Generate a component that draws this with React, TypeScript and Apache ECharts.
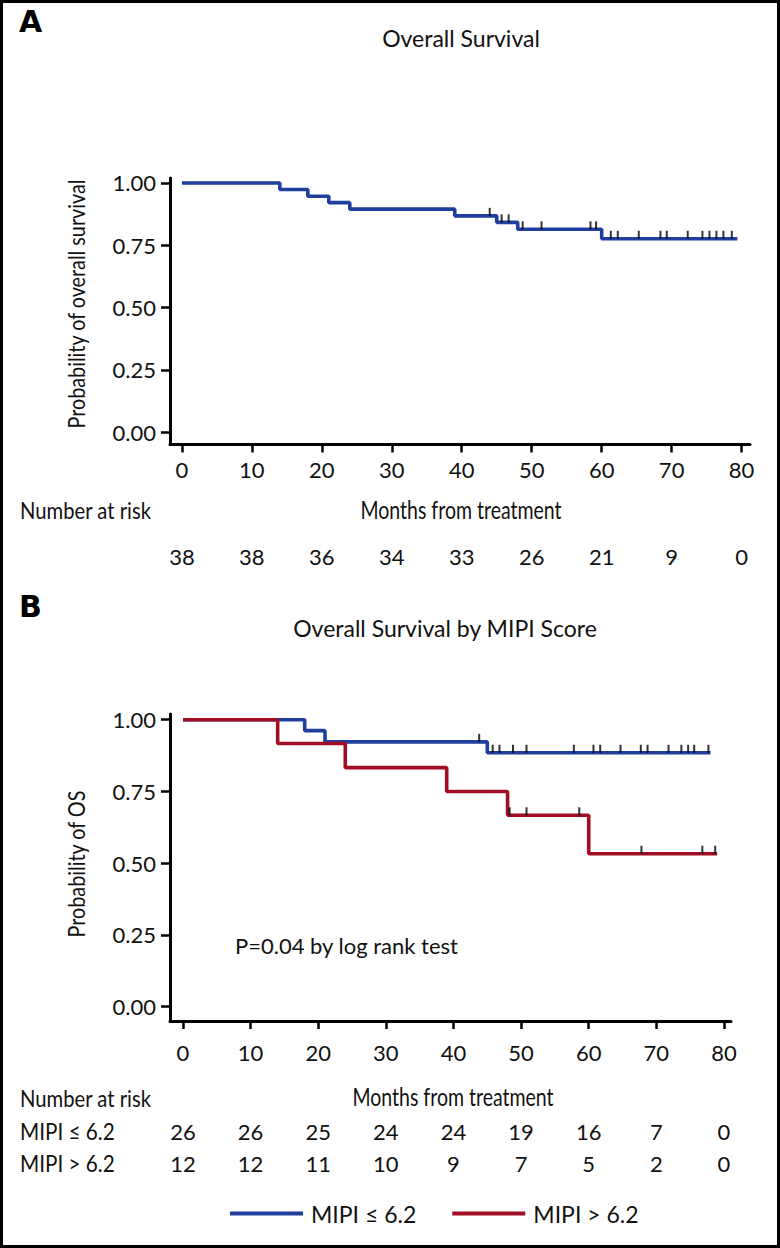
import React, { useEffect, useRef } from "react";
import * as echarts from "echarts";

// ---------- data ----------
const months = [0, 10, 20, 30, 40, 50, 60, 70, 80];
const yTicks = [0, 0.25, 0.5, 0.75, 1];

// Panel A: overall survival (all patients)
const osTimes = [0, 14, 18, 21, 24, 39, 45, 48, 60, 79.4];
const osSurv = [1, 0.974, 0.947, 0.921, 0.895, 0.868, 0.842, 0.814, 0.776, 0.776];
const osCensor = [44.0, 45.7, 46.7, 48.7, 51.4, 58.4, 59.2, 61.3, 62.3, 65.3, 68.4, 69.3, 72.3, 74.4, 75.4, 76.4, 77.4, 78.6];
const riskAll = [38, 38, 36, 34, 33, 26, 21, 9, 0];

// Panel B: by MIPI score
const lowName = "MIPI ≤ 6.2";
const highName = "MIPI > 6.2";
const lowTimes = [0, 18, 21, 45, 78];
const lowSurv = [1, 0.962, 0.923, 0.885, 0.885];
const lowCensor = [43.8, 45.8, 46.8, 48.8, 50.8, 57.8, 60.7, 61.7, 64.7, 67.7, 68.7, 71.8, 73.7, 74.7, 75.6, 77.7];
const highTimes = [0, 14, 24, 39, 48, 60, 79];
const highSurv = [1, 0.917, 0.833, 0.75, 0.667, 0.533, 0.533];
const highCensor = [48.3, 50.8, 58.6, 67.8, 76.8, 78.7];
const riskLow = [26, 26, 25, 24, 24, 19, 16, 7, 0];
const riskHigh = [12, 12, 11, 10, 9, 7, 5, 2, 0];

// ---------- helpers ----------
const BLUE = "#1f3f9f";
const RED = "#a00d25";
const REG = "Lato, 'Open Sans', sans-serif";

const curve = (t: number[], s: number[]) => t.map((x, i) => [x, s[i]]);
const levelAt = (t: number[], s: number[], x: number) => {
  let v = s[0];
  for (let i = 0; i < t.length; i++) if (t[i] <= x) v = s[i];
  return v;
};
const marks = (t: number[], s: number[], c: number[]) => c.map((x) => [x, levelAt(t, s, x)]);

const xAxisBase = (grid: number, min: number, max: number, margin: number) => ({
  type: "value",
  gridIndex: grid,
  min,
  max,
  axisLine: { show: true, onZero: false, lineStyle: { color: "#000", width: 3 } },
  axisTick: { show: true, customValues: months, length: 8, lineStyle: { color: "#000", width: 2.5 } },
  axisLabel: { customValues: months, margin, fontFamily: REG, fontSize: 22, color: "#111" },
  splitLine: { show: false },
});

const yAxisBase = (grid: number) => ({
  type: "value",
  gridIndex: grid,
  min: -0.05,
  max: 1.02,
  axisLine: { show: true, onZero: false, lineStyle: { color: "#000", width: 3 } },
  axisTick: { show: true, customValues: yTicks, length: 9, lineStyle: { color: "#000", width: 2.5 } },
  axisLabel: {
    customValues: yTicks,
    margin: 14,
    fontFamily: REG,
    fontSize: 22,
    color: "#111",
    formatter: (v: number) => v.toFixed(2),
  },
  splitLine: { show: false },
});

const hiddenX = (grid: number, min: number, max: number) => ({
  type: "value",
  gridIndex: grid,
  min,
  max,
  show: false,
});

const stepLine = (name: string, data: number[][], color: string, xi: number) => ({
  name,
  type: "line",
  xAxisIndex: xi,
  yAxisIndex: xi,
  data,
  step: "end",
  symbol: "none",
  lineStyle: { color, width: 3.6 },
  itemStyle: { color },
  z: 3,
});

const censorSeries = (data: number[][], xi: number) => ({
  name: "censor",
  type: "scatter",
  xAxisIndex: xi,
  yAxisIndex: xi,
  data,
  symbol: "rect",
  symbolSize: [2, 8],
  symbolOffset: [0, -4],
  itemStyle: { color: "#000" },
  z: 4,
  silent: true,
});

const riskSeries = (vals: number[], row: number, xi: number) => ({
  type: "scatter",
  xAxisIndex: xi,
  yAxisIndex: xi,
  data: months.map((m, i) => [m, row, vals[i]]),
  symbol: "circle",
  symbolSize: 1,
  itemStyle: { color: "#ffffff", opacity: 1 },
  label: {
    show: true,
    position: "inside",
    formatter: (p: any) => String(p.data[2]),
    fontFamily: REG,
    fontSize: 22,
    color: "#111111",
    opacity: 1,
    textBorderWidth: 0,
  },
  emphasis: { disabled: true },
  silent: true,
});

const txt = (text: string, x: number, y: number, extra: any = {}, el: any = {}) => ({
  type: "text",
  x,
  y,
  ...el,
  style: { text, fontFamily: REG, fontSize: 22, fill: "#111", verticalAlign: "middle", ...extra },
  silent: true,
});

export default function App() {
  const ref = useRef<HTMLDivElement>(null);
  useEffect(() => {
    document.body.style.margin = "0";
    const chart = echarts.init(ref.current!, undefined, { renderer: "svg" });
    const option: any = {
      animation: false,
      backgroundColor: "#fff",
      grid: [
        { left: 170, top: 178, width: 580, height: 266.5, outerBoundsMode: "none" },
        { left: 170, top: 714, width: 561, height: 307, outerBoundsMode: "none" },
        { left: 170, top: 541, width: 580, height: 30, outerBoundsMode: "none" },
        { left: 170, top: 1115, width: 561, height: 64, outerBoundsMode: "none" },
      ],
      xAxis: [
        xAxisBase(0, -1.7, 81.2, 14),
        xAxisBase(1, -1.92, 81.04, 20),
        hiddenX(2, -1.7, 81.2),
        hiddenX(3, -1.92, 81.04),
      ],
      yAxis: [
        yAxisBase(0),
        yAxisBase(1),
        { type: "category", gridIndex: 2, data: ["all"], show: false },
        { type: "category", gridIndex: 3, data: [lowName, highName], inverse: true, show: false },
      ],
      legend: {
        data: [lowName, highName],
        left: 225,
        top: 1197,
        icon: "rect",
        itemWidth: 73,
        itemHeight: 4,
        itemGap: 36,
        textStyle: { fontFamily: REG, fontSize: 23, color: "#111", padding: [0, 0, 0, 3] },
        selectedMode: false,
      },
      graphic: [
        { type: "rect", shape: { x: 1.5, y: 1.5, width: 777, height: 1245 }, style: { fill: "none", stroke: "#000", lineWidth: 3 }, silent: true },
        txt("A", 19, 21, { fontFamily: "'DejaVu Sans', sans-serif", fontWeight: "bold", fontSize: 30, fill: "#000" }),
        txt("B", 19, 606, { fontFamily: "'DejaVu Sans', sans-serif", fontWeight: "bold", fontSize: 30, fill: "#000" }),
        txt("Overall Survival", 461, 38, { fontSize: 23, align: "center" }),
        txt("Overall Survival by MIPI Score", 445, 628, { fontSize: 23, align: "center" }),
        txt("Probability of overall survival", 76, 304, { fontSize: 23, align: "center" }, { rotation: Math.PI / 2, scaleX: 0.86 }),
        txt("Probability of OS", 76, 864, { fontSize: 23, align: "center" }, { rotation: Math.PI / 2, scaleX: 0.86 }),
        txt("Months from treatment", 461, 510, { fontSize: 25, align: "center" }, { scaleX: 0.78 }),
        txt("Months from treatment", 453, 1097, { fontSize: 25, align: "center" }, { scaleX: 0.78 }),
        txt("Number at risk", 20, 511, { fontSize: 23 }, { scaleX: 0.88 }),
        txt("Number at risk", 20, 1099, { fontSize: 23 }, { scaleX: 0.88 }),
        txt(lowName, 20, 1131, { fontSize: 23 }, { scaleX: 0.9 }),
        txt(highName, 20, 1163, { fontSize: 23 }, { scaleX: 0.9 }),
        txt("P=0.04 by log rank test", 235, 945, { fontSize: 22 }),
      ],
      series: [
        stepLine("Overall", curve(osTimes, osSurv), BLUE, 0),
        censorSeries(marks(osTimes, osSurv, osCensor), 0),
        stepLine(lowName, curve(lowTimes, lowSurv), BLUE, 1),
        stepLine(highName, curve(highTimes, highSurv), RED, 1),
        censorSeries(marks(lowTimes, lowSurv, lowCensor), 1),
        censorSeries(marks(highTimes, highSurv, highCensor), 1),
        riskSeries(riskAll, 0, 2),
        riskSeries(riskLow, 0, 3),
        riskSeries(riskHigh, 1, 3),
      ],
    };
    chart.setOption(option);
    return () => chart.dispose();
  }, []);
  return <div ref={ref} style={{ width: 780, height: 1248 }} />;
}
